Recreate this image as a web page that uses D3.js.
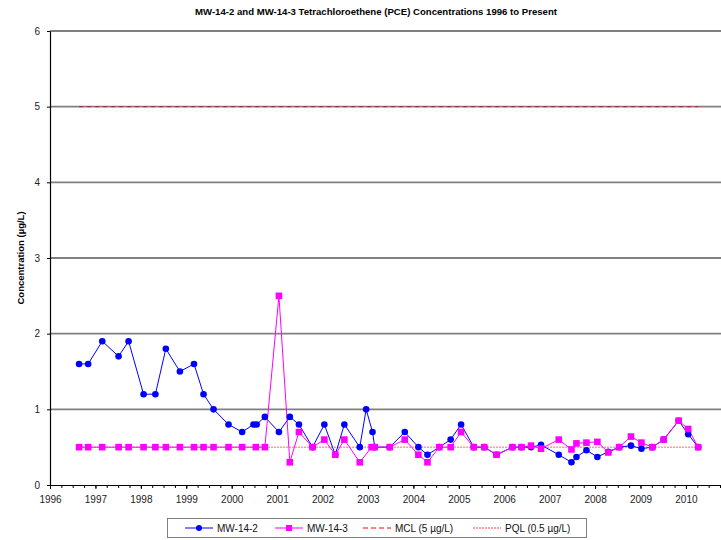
<!DOCTYPE html>
<html>
<head>
<meta charset="utf-8">
<script src="https://cdn.jsdelivr.net/npm/d3@7"></script>
<style>
  body { margin: 0; background: #fff; }
  text { font-family: "Liberation Sans", Arial, sans-serif; }
</style>
</head>
<body>
<div id="chart"></div>
<script>
// sample dates (decimal years) and PCE concentrations (ug/L)
const datesA = [1996.64, 1996.84, 1997.15, 1997.51, 1997.73, 1998.06, 1998.32, 1998.55, 1998.86, 1999.17,
  1999.38, 1999.60, 1999.93, 2000.23, 2000.48, 2000.55, 2000.73, 2001.04, 2001.28, 2001.48,
  2001.78, 2002.04, 2002.28, 2002.48, 2002.82, 2002.96, 2003.10, 2003.15, 2003.48, 2003.81,
  2004.11, 2004.31, 2004.57, 2004.82, 2005.05, 2005.33, 2005.56, 2005.83, 2006.18, 2006.38,
  2006.59, 2006.81, 2007.20, 2007.48, 2007.59, 2007.81, 2008.05, 2008.29, 2008.53, 2008.79,
  2009.02, 2009.26, 2009.51, 2009.84, 2010.05, 2010.27];
const mw142 = [1.6, 1.6, 1.9, 1.7, 1.9, 1.2, 1.2, 1.8, 1.5, 1.6,
  1.2, 1.0, 0.8, 0.7, 0.8, 0.8, 0.9, 0.7, 0.9, 0.8,
  0.5, 0.8, 0.4, 0.8, 0.5, 1.0, 0.7, 0.5, 0.5, 0.7,
  0.5, 0.4, 0.5, 0.6, 0.8, 0.5, 0.5, 0.4, 0.5, 0.5,
  0.5, 0.53, 0.4, 0.3, 0.37, 0.46, 0.37, 0.44, 0.5, 0.52,
  0.48, 0.5, 0.6, 0.85, 0.67, 0.5];

const datesB = [1996.64, 1996.84, 1997.15, 1997.51, 1997.73, 1998.06, 1998.32, 1998.55, 1998.86, 1999.17,
  1999.38, 1999.60, 1999.93, 2000.23, 2000.53, 2000.73, 2001.04, 2001.28, 2001.48, 2001.78,
  2002.04, 2002.28, 2002.48, 2002.82, 2003.08, 2003.15, 2003.48, 2003.81, 2004.11, 2004.31,
  2004.57, 2004.82, 2005.05, 2005.33, 2005.56, 2005.83, 2006.18, 2006.38, 2006.59, 2006.81,
  2007.20, 2007.48, 2007.59, 2007.81, 2008.05, 2008.29, 2008.53, 2008.79, 2009.02, 2009.26,
  2009.51, 2009.84, 2010.05, 2010.27];
const mw143 = [0.5, 0.5, 0.5, 0.5, 0.5, 0.5, 0.5, 0.5, 0.5, 0.5,
  0.5, 0.5, 0.5, 0.5, 0.5, 0.5, 2.5, 0.3, 0.7, 0.5,
  0.6, 0.4, 0.6, 0.3, 0.5, 0.5, 0.5, 0.6, 0.4, 0.3,
  0.5, 0.5, 0.7, 0.5, 0.5, 0.4, 0.5, 0.5, 0.52, 0.48,
  0.6, 0.47, 0.55, 0.56, 0.57, 0.43, 0.5, 0.64, 0.56, 0.5,
  0.6, 0.85, 0.74, 0.5];

const limitDates = [1996.64, 2010.27];
const mcl = [5, 5];
const pql = [0.5, 0.5];

const yTicks = [0, 1, 2, 3, 4, 5, 6];
const xYears = d3.range(1996, 2011);
const legendLabels = ["MW-14-2", "MW-14-3", "MCL (5 \u00b5g/L)", "PQL (0.5 \u00b5g/L)"];

const width = 721, height = 540;
const margin = ({top: 31, right: -4, bottom: 55, left: 50});

const x = d3.scaleLinear().domain([1996, 2010.86]).range([margin.left, width - margin.right]);
const y = d3.scaleLinear().domain([0, 6]).range([height - margin.bottom, margin.top]);

const svg = d3.select("#chart").append("svg")
  .attr("width", width)
  .attr("height", height);

// gridlines
svg.append("g")
  .selectAll("line")
  .data(yTicks.slice(1, -1))
  .join("line")
    .attr("x1", margin.left).attr("x2", width - margin.right)
    .attr("y1", d => y(d)).attr("y2", d => y(d))
    .attr("stroke", "#808080")
    .attr("stroke-width", 1.8);

// top border
svg.append("line")
  .attr("x1", margin.left).attr("x2", width - margin.right)
  .attr("y1", y(6)).attr("y2", y(6))
  .attr("stroke", "#000").attr("stroke-width", 1.2);

// y axis
svg.append("g")
  .attr("transform", `translate(${margin.left},0)`)
  .call(d3.axisLeft(y).tickValues(yTicks).tickSize(3).tickPadding(7).tickFormat(d3.format("d")).tickSizeOuter(0))
  .call(g => g.select(".domain").attr("stroke", "#000").attr("stroke-width", 1.2))
  .call(g => g.selectAll("text").attr("font-size", 10).attr("fill", "#222")
    .attr("font-family", "Liberation Sans, Arial, sans-serif"));

// x axis quarter ticks
svg.append("g")
  .attr("transform", `translate(0,${y(0)})`)
  .call(d3.axisBottom(x).tickValues(d3.range(1996, 2010.9, 0.25)).tickSize(3).tickFormat("").tickSizeOuter(0))
  .call(g => g.select(".domain").attr("stroke", "#000").attr("stroke-width", 1.2));

// x axis year labels
svg.append("g")
  .attr("transform", `translate(0,${y(0)})`)
  .call(d3.axisBottom(x).tickValues(xYears).tickSize(4).tickPadding(7).tickFormat(d3.format("d")))
  .call(g => g.select(".domain").remove())
  .call(g => g.selectAll("text").attr("font-size", 10).attr("fill", "#222")
    .attr("font-family", "Liberation Sans, Arial, sans-serif"));

// y axis label
svg.append("text")
  .attr("transform", `translate(24,${(y(0) + y(6)) / 2}) rotate(-90)`)
  .attr("text-anchor", "middle")
  .attr("font-size", 9.5)
  .attr("font-weight", "bold")
  .text("Concentration  (\u00b5g/L)");

// title
svg.append("text")
  .attr("x", 376)
  .attr("y", 15)
  .attr("text-anchor", "middle")
  .attr("font-size", 9.6)
  .attr("font-weight", "bold")
  .text("MW-14-2 and MW-14-3 Tetrachloroethene (PCE) Concentrations 1996 to Present");

const line = d3.line()
  .x(d => x(d[0]))
  .y(d => y(d[1]));

const seriesA = datesA.map((d, i) => [d, mw142[i]]);
const seriesB = datesB.map((d, i) => [d, mw143[i]]);

// limit lines
svg.append("path")
  .datum(limitDates.map((d, i) => [d, mcl[i]]))
  .attr("d", line)
  .attr("fill", "none")
  .attr("stroke", "#c81010")
  .attr("stroke-width", 0.9)
  .attr("stroke-dasharray", "4,4");

svg.append("path")
  .datum(limitDates.map((d, i) => [d, pql[i]]))
  .attr("d", line)
  .attr("fill", "none")
  .attr("stroke", "#ff4040")
  .attr("stroke-opacity", 0.8)
  .attr("stroke-width", 1)
  .attr("stroke-dasharray", "2,1");

// MW-14-2
svg.append("path")
  .datum(seriesA)
  .attr("d", line)
  .attr("fill", "none")
  .attr("stroke", "#0000ff")
  .attr("stroke-width", 1);

// MW-14-3
svg.append("path")
  .datum(seriesB)
  .attr("d", line)
  .attr("fill", "none")
  .attr("stroke", "#ff00ff")
  .attr("stroke-width", 1);

svg.append("g")
  .selectAll("circle")
  .data(seriesA)
  .join("circle")
    .attr("cx", d => x(d[0]))
    .attr("cy", d => y(d[1]))
    .attr("r", 3.3)
    .attr("fill", "#0000ff");

svg.append("g")
  .selectAll("rect")
  .data(seriesB)
  .join("rect")
    .attr("x", d => x(d[0]) - 3.3)
    .attr("y", d => y(d[1]) - 3.3)
    .attr("width", 6.6)
    .attr("height", 6.6)
    .attr("fill", "#ff00ff");

// legend
const legend = svg.append("g");
legend.append("rect")
  .attr("x", 167.5).attr("y", 518.5)
  .attr("width", 419).attr("height", 19)
  .attr("fill", "#fff")
  .attr("stroke", "#808080");

const legendX = [185, 275, 363, 473];
const legendStroke = ["#0000ff", "#ff00ff", "#ff0000", "#ff4040"];
const legendDash = [null, null, "5,3", "2,1"];
const ly = 528;

legendLabels.forEach((label, i) => {
  const lx = legendX[i];
  legend.append("line")
    .attr("x1", lx).attr("x2", lx + 28)
    .attr("y1", ly).attr("y2", ly)
    .attr("stroke", legendStroke[i])
    .attr("stroke-width", 1)
    .attr("stroke-dasharray", legendDash[i]);
  if (i === 0) {
    legend.append("circle").attr("cx", lx + 14).attr("cy", ly).attr("r", 3).attr("fill", "#0000ff");
  } else if (i === 1) {
    legend.append("rect").attr("x", lx + 11).attr("y", ly - 3).attr("width", 6).attr("height", 6).attr("fill", "#ff00ff");
  }
  legend.append("text")
    .attr("x", lx + 32)
    .attr("y", ly)
    .attr("dy", "0.35em")
    .attr("font-size", 10)
    .attr("fill", "#111")
    .text(label);
});
</script>
</body>
</html>
